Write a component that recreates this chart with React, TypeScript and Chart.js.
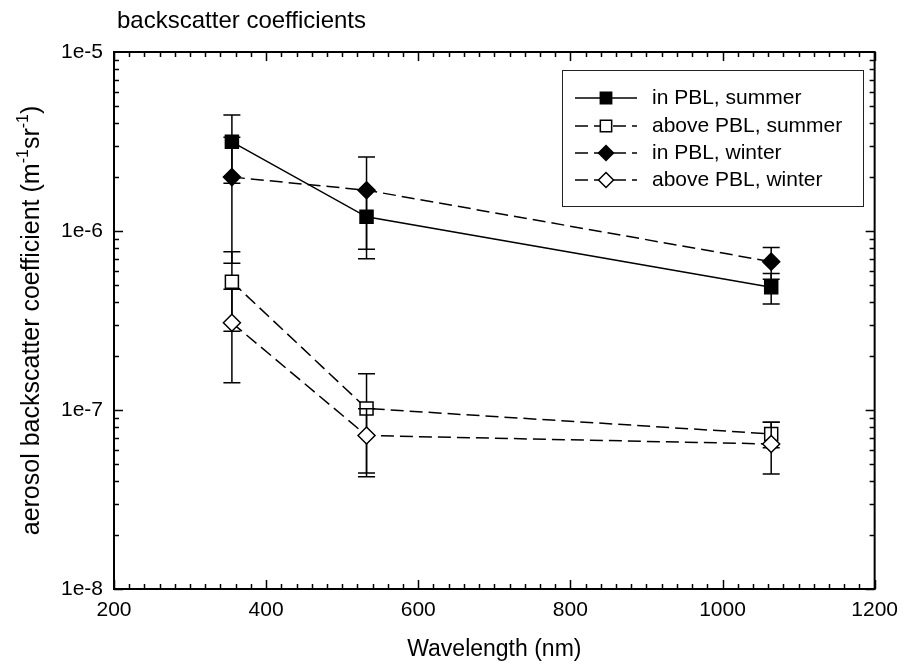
import React, { useEffect, useRef } from 'react';
import { Chart, registerables } from 'chart.js';

Chart.register(...registerables);

const wavelengths = [355, 532, 1064];
const inPBLSummer = [3.15e-6, 1.2e-6, 4.85e-7];
const inPBLSummerErr = [1.3e-6, 5.0e-7, 9.4e-8];
const abovePBLSummer = [5.2e-7, 1.02e-7, 7.35e-8];
const abovePBLSummerErr = [2.45e-7, 5.75e-8, 1.2e-8];
const inPBLWinter = [2.0e-6, 1.69e-6, 6.74e-7];
const inPBLWinterErr = [1.34e-6, 9.0e-7, 1.36e-7];
const abovePBLWinter = [3.07e-7, 7.2e-8, 6.46e-8];
const abovePBLWinterErr = [1.65e-7, 2.96e-8, 2.07e-8];
const seriesLabels = ['in PBL, summer', 'above PBL, summer', 'in PBL, winter', 'above PBL, winter'];
const xTickValues = [200, 400, 600, 800, 1000, 1200];
const yTickValues = [1e-8, 1e-7, 1e-6, 1e-5];

const FONT = "'Liberation Sans', Arial, Helvetica, sans-serif";

function drawMarker(ctx: CanvasRenderingContext2D, style: string, x: number, y: number, r: number, fill: string) {
  ctx.beginPath();
  if (style === 'rect') {
    const s = r * Math.SQRT1_2;
    ctx.rect(x - s, y - s, 2 * s, 2 * s);
  } else {
    ctx.moveTo(x, y - r);
    ctx.lineTo(x + r, y);
    ctx.lineTo(x, y + r);
    ctx.lineTo(x - r, y);
    ctx.closePath();
  }
  ctx.fillStyle = fill;
  ctx.fill();
  ctx.lineWidth = 1.5;
  ctx.strokeStyle = '#000';
  ctx.stroke();
}

const errorBarPlugin = {
  id: 'errorBars',
  beforeDatasetDraw(chart: any, args: any) {
    const ds = chart.data.datasets[args.index];
    const errs: number[] = ds.errors;
    if (!errs) return;
    const ctx = chart.ctx;
    const ys = chart.scales.y;
    const xs = chart.scales.x;
    ctx.save();
    ctx.strokeStyle = '#000';
    ctx.lineWidth = 1.5;
    ctx.setLineDash([]);
    ds.data.forEach((p: any, j: number) => {
      const x = xs.getPixelForValue(p.x);
      const yt = ys.getPixelForValue(p.y + errs[j]);
      const yb = ys.getPixelForValue(Math.max(p.y - errs[j], 1e-12));
      ctx.beginPath();
      ctx.moveTo(x, yt);
      ctx.lineTo(x, yb);
      ctx.moveTo(x - 8.5, yt);
      ctx.lineTo(x + 8.5, yt);
      ctx.moveTo(x - 8.5, yb);
      ctx.lineTo(x + 8.5, yb);
      ctx.stroke();
    });
    ctx.restore();
  },
};

const decorPlugin = {
  id: 'decor',
  afterDraw(chart: any) {
    const ctx: CanvasRenderingContext2D = chart.ctx;
    const { left, right, top, bottom } = chart.chartArea;
    const xs = chart.scales.x;
    const ys = chart.scales.y;
    ctx.save();
    ctx.setLineDash([]);
    ctx.strokeStyle = '#000';
    // ticks
    ctx.lineWidth = 1.5;
    ctx.beginPath();
    for (let v = 200; v <= 1200; v += 20) {
      const px = Math.round(xs.getPixelForValue(v)) + 0.5;
      const len = v % 200 === 0 ? 9 : 5;
      ctx.moveTo(px, bottom);
      ctx.lineTo(px, bottom - len);
      ctx.moveTo(px, top);
      ctx.lineTo(px, top + len);
    }
    for (let e = -8; e < -5; e++) {
      for (let m = 1; m <= 9; m++) {
        const v = m * Math.pow(10, e);
        const py = Math.round(ys.getPixelForValue(v)) + 0.5;
        const len = m === 1 ? 9 : 5;
        ctx.moveTo(left, py);
        ctx.lineTo(left + len, py);
        ctx.moveTo(right, py);
        ctx.lineTo(right - len, py);
      }
    }
    ctx.stroke();
    // frame
    ctx.lineWidth = 2;
    ctx.strokeRect(left, top, right - left, bottom - top);

    // title
    ctx.fillStyle = '#000';
    ctx.font = `24px ${FONT}`;
    ctx.textAlign = 'left';
    ctx.textBaseline = 'middle';
    ctx.fillText('backscatter coefficients', left + 3, 21);

    // y title with superscripts
    ctx.save();
    ctx.translate(30, (top + bottom) / 2);
    ctx.rotate(-Math.PI / 2);
    const parts = [
      { t: 'aerosol backscatter coefficient (m', sup: false },
      { t: '-1', sup: true },
      { t: 'sr', sup: false },
      { t: '-1', sup: true },
      { t: ')', sup: false },
    ];
    const mainFont = `25px ${FONT}`;
    const supFont = `16px ${FONT}`;
    let total = 0;
    parts.forEach((p) => {
      ctx.font = p.sup ? supFont : mainFont;
      total += ctx.measureText(p.t).width;
    });
    let cx = -total / 2;
    ctx.textAlign = 'left';
    ctx.textBaseline = 'alphabetic';
    parts.forEach((p) => {
      ctx.font = p.sup ? supFont : mainFont;
      ctx.fillText(p.t, cx, p.sup ? -2 : 9);
      cx += ctx.measureText(p.t).width;
    });
    ctx.restore();

    // legend
    const bx = 562, by = 70, bw = 301, bh = 136;
    ctx.lineWidth = 1;
    ctx.strokeStyle = '#222';
    ctx.strokeRect(bx + 0.5, by + 0.5, bw, bh);
    const rows = [98, 126, 153, 180];
    chart.data.datasets.forEach((ds: any, i: number) => {
      const y = rows[i];
      ctx.strokeStyle = '#000';
      ctx.lineWidth = 1.5;
      ctx.setLineDash(ds.borderDash || []);
      ctx.beginPath();
      ctx.moveTo(575, y);
      ctx.lineTo(637, y);
      ctx.stroke();
      ctx.setLineDash([]);
      drawMarker(ctx, ds.pointStyle, 606, y, ds.pointStyle === 'rect' ? 8 : 7.5, ds.pointBackgroundColor);
      ctx.fillStyle = '#000';
      ctx.font = `21px ${FONT}`;
      ctx.textAlign = 'left';
      ctx.textBaseline = 'middle';
      ctx.fillText(ds.label, 652, y);
    });
    ctx.restore();
  },
};

function makeData(vals: number[]) {
  return wavelengths.map((x, i) => ({ x, y: vals[i] }));
}

export default function App() {
  const ref = useRef<HTMLCanvasElement | null>(null);
  useEffect(() => {
    document.body.style.margin = '0';
    const canvas = ref.current!;
    const common = {
      borderColor: '#000',
      borderWidth: 1.5,
      pointBorderColor: '#000',
      pointBorderWidth: 1.5,
      fill: false,
      tension: 0,
    };
    const chart = new Chart(canvas, {
      type: 'line',
      data: {
        datasets: [
          {
            ...common,
            label: seriesLabels[0],
            data: makeData(inPBLSummer),
            errors: inPBLSummerErr,
            borderDash: [],
            pointStyle: 'rect',
            pointRadius: 9.2,
            pointBackgroundColor: '#000',
            order: 3,
          },
          {
            ...common,
            label: seriesLabels[1],
            data: makeData(abovePBLSummer),
            errors: abovePBLSummerErr,
            borderDash: [13, 6],
            pointStyle: 'rect',
            pointRadius: 9.2,
            pointBackgroundColor: '#fff',
            order: 2,
          },
          {
            ...common,
            label: seriesLabels[2],
            data: makeData(inPBLWinter),
            errors: inPBLWinterErr,
            borderDash: [13, 6],
            pointStyle: 'rectRot',
            pointRadius: 8.5,
            pointBackgroundColor: '#000',
            order: 1,
          },
          {
            ...common,
            label: seriesLabels[3],
            data: makeData(abovePBLWinter),
            errors: abovePBLWinterErr,
            borderDash: [13, 6],
            pointStyle: 'rectRot',
            pointRadius: 8.5,
            pointBackgroundColor: '#fff',
            order: 0,
          },
        ] as any,
      },
      options: {
        responsive: false,
        animation: false,
        events: [],
        layout: { padding: { top: 52, right: 23, bottom: 0, left: 0 } },
        plugins: {
          legend: { display: false },
          title: { display: false },
          tooltip: { enabled: false },
        },
        scales: {
          x: {
            type: 'linear',
            min: 200,
            max: 1200,
            afterBuildTicks: (s: any) => {
              s.ticks = xTickValues.map((v) => ({ value: v }));
            },
            afterFit: (s: any) => {
              s.height = 83;
            },
            grid: { display: false, drawTicks: false },
            border: { display: false },
            ticks: {
              color: '#000',
              font: { family: FONT, size: 21 },
              padding: 9,
              maxRotation: 0,
              callback: (v: any) => String(v),
            },
            title: {
              display: true,
              text: 'Wavelength (nm)',
              color: '#000',
              font: { family: FONT, size: 23 },
              padding: { top: 0, bottom: 9 },
            },
          },
          y: {
            type: 'logarithmic',
            min: 1e-8,
            max: 1e-5,
            afterBuildTicks: (s: any) => {
              s.ticks = yTickValues.map((v) => ({ value: v }));
            },
            afterFit: (s: any) => {
              s.width = 114;
            },
            grid: { display: false, drawTicks: false },
            border: { display: false },
            ticks: {
              color: '#000',
              font: { family: FONT, size: 21 },
              padding: 11,
              callback: (v: any) => '1e' + Math.round(Math.log10(Number(v))),
            },
          },
        },
      } as any,
      plugins: [errorBarPlugin, decorPlugin],
    });
    return () => chart.destroy();
  }, []);
  return <canvas ref={ref} width={907} height={672} style={{ display: 'block' }} />;
}
